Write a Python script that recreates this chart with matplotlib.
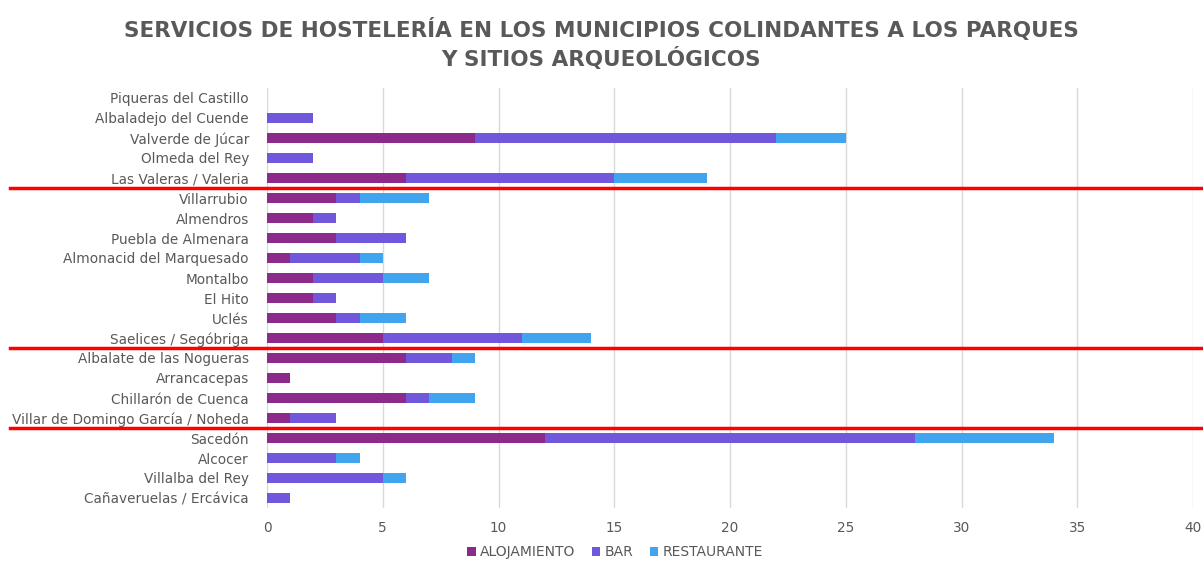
import matplotlib.pyplot as plt
from matplotlib.transforms import blended_transform_factory
import numpy as np

municipios = [
    'Piqueras del Castillo', 'Albaladejo del Cuende', 'Valverde de Júcar',
    'Olmeda del Rey', 'Las Valeras / Valeria',
    'Villarrubio', 'Almendros', 'Puebla de Almenara', 'Almonacid del Marquesado',
    'Montalbo', 'El Hito', 'Uclés', 'Saelices / Segóbriga',
    'Albalate de las Nogueras', 'Arrancacepas', 'Chillarón de Cuenca',
    'Villar de Domingo García / Noheda',
    'Sacedón', 'Alcocer', 'Villalba del Rey', 'Cañaveruelas / Ercávica',
]
alojamiento = [0, 0, 9, 0, 6, 3, 2, 3, 1, 2, 2, 3, 5, 6, 1, 6, 1, 12, 0, 0, 0]
bar = [0, 2, 13, 2, 9, 1, 1, 3, 3, 3, 1, 1, 6, 2, 0, 1, 2, 16, 3, 5, 1]
restaurante = [0, 0, 3, 0, 4, 3, 0, 0, 1, 2, 0, 2, 3, 1, 0, 2, 0, 6, 1, 1, 0]
# municipios por parque / sitio arqueologico (separados con lineas rojas)
grupos = [5, 8, 4, 4]

colores = ['#8B2A8B', '#7057DC', '#41A4EE']
gris = '#595959'

plt.rcParams['font.family'] = ['DejaVu Sans']

fig = plt.figure(figsize=(12.03, 5.61), dpi=100)
ax = fig.add_axes([267 / 1203, 1 - 508 / 561, (1193 - 267) / 1203, (508 - 88) / 561])

y = np.arange(len(municipios))
izq = np.zeros(len(municipios))
for vals, col, nombre in zip([alojamiento, bar, restaurante], colores,
                             ['ALOJAMIENTO', 'BAR', 'RESTAURANTE']):
    ax.barh(y, vals, left=izq, height=0.5, color=col, label=nombre, zorder=3)
    izq += np.array(vals)

ax.set_ylim(len(municipios) - 0.5, -0.5)
ax.set_xlim(0, 40)
ax.set_xticks(range(0, 41, 5))
ax.set_yticks(y)
ax.set_yticklabels(municipios)
ax.tick_params(axis='both', length=0, labelsize=9.8, colors=gris)
ax.tick_params(axis='y', pad=13)
ax.tick_params(axis='x', pad=9)
ax.grid(axis='x', color='#d9d9d9', linewidth=1, zorder=0)
for s in ax.spines.values():
    s.set_visible(False)

# lineas rojas entre grupos
tr = blended_transform_factory(fig.transFigure, ax.transData)
limites = np.cumsum(grupos)[:-1] - 0.5
for b in limites:
    ax.plot([10 / 1203, 1], [b, b], color='#ff0000', linewidth=2.5,
            transform=tr, clip_on=False, zorder=5)

fig.text(0.5, 1 - 44 / 561,
         'SERVICIOS DE HOSTELERÍA EN LOS MUNICIPIOS COLINDANTES A LOS PARQUES\nY SITIOS ARQUEOLÓGICOS',
         ha='center', va='center', fontsize=15.5, fontweight='bold', color=gris,
         linespacing=1.35)

leg = fig.legend(loc='center', bbox_to_anchor=(615 / 1203, 1 - 552 / 561), ncol=3,
                 frameon=False, fontsize=10, handlelength=0.6, handleheight=0.6,
                 handletextpad=0.3, columnspacing=1.2)
for t in leg.get_texts():
    t.set_color(gris)

plt.savefig('out.png', dpi=100)
